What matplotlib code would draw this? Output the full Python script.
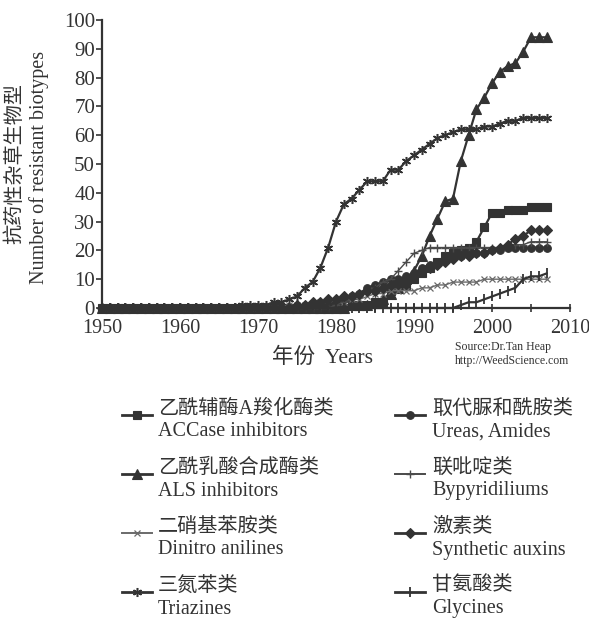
import matplotlib
matplotlib.use("Agg")
import matplotlib.pyplot as plt
from matplotlib.lines import Line2D

plt.rcParams['font.family'] = ['Liberation Serif', 'Noto Sans CJK SC', 'DejaVu Sans']

years = list(range(1950, 2008))

def series(vals):
    # yearly list from {year: value}; unlisted years are 0
    return [vals.get(y, 0) for y in years]

accase = series({1982: 1, 1983: 1, 1984: 1, 1985: 2, 1986: 2, 1987: 6, 1988: 7, 1989: 8,
                 1990: 10, 1991: 12, 1992: 14, 1993: 16, 1994: 18, 1995: 19, 1996: 20,
                 1997: 21, 1998: 23, 1999: 28, 2000: 33, 2001: 33, 2002: 34, 2003: 34,
                 2004: 34, 2005: 35, 2006: 35, 2007: 35})
als = series({1982: 1, 1983: 1, 1984: 1, 1985: 2, 1986: 3, 1987: 5, 1988: 7, 1989: 10,
              1990: 13, 1991: 18, 1992: 25, 1993: 31, 1994: 37, 1995: 38, 1996: 51,
              1997: 60, 1998: 69, 1999: 73, 2000: 78, 2001: 82, 2002: 84, 2003: 85,
              2004: 89, 2005: 94, 2006: 94, 2007: 94})
dinitro = series({1973: 1, 1974: 1, 1975: 1, 1976: 1, 1977: 1, 1978: 2, 1979: 2, 1980: 2,
                  1981: 2, 1982: 3, 1983: 3, 1984: 4, 1985: 5, 1986: 5, 1987: 6, 1988: 6,
                  1989: 6, 1990: 6, 1991: 7, 1992: 7, 1993: 8, 1994: 8, 1995: 9, 1996: 9,
                  1997: 9, 1998: 9, 1999: 10, 2000: 10, 2001: 10, 2002: 10, 2003: 10,
                  2004: 10, 2005: 10, 2006: 10, 2007: 10})
triazines = series({1968: 1, 1969: 1, 1970: 1, 1971: 1, 1972: 2, 1973: 2, 1974: 3, 1975: 4,
                    1976: 7, 1977: 9, 1978: 14, 1979: 21, 1980: 30, 1981: 36, 1982: 38,
                    1983: 41, 1984: 44, 1985: 44, 1986: 44, 1987: 48, 1988: 48, 1989: 51,
                    1990: 53, 1991: 55, 1992: 57, 1993: 59, 1994: 60, 1995: 61, 1996: 62,
                    1997: 62, 1998: 62, 1999: 63, 2000: 63, 2001: 64, 2002: 65, 2003: 65,
                    2004: 66, 2005: 66, 2006: 66, 2007: 66})
ureas = series({1978: 1, 1979: 1, 1980: 2, 1981: 3, 1982: 4, 1983: 5, 1984: 7, 1985: 8,
                1986: 9, 1987: 10, 1988: 10, 1989: 11, 1990: 12, 1991: 14, 1992: 15,
                1993: 16, 1994: 17, 1995: 18, 1996: 18, 1997: 19, 1998: 19, 1999: 19,
                2000: 20, 2001: 20, 2002: 21, 2003: 21, 2004: 21, 2005: 21, 2006: 21,
                2007: 21})
bipy = series({1980: 1, 1981: 2, 1982: 3, 1983: 4, 1984: 6, 1985: 7, 1986: 9, 1987: 10,
               1988: 13, 1989: 16, 1990: 19, 1991: 20, 1992: 21, 1993: 21, 1994: 21,
               1995: 21, 1996: 21, 1997: 21, 1998: 21, 1999: 21, 2000: 21, 2001: 21,
               2002: 22, 2003: 22, 2004: 22, 2005: 23, 2006: 23, 2007: 23})
auxins = series({1975: 1, 1976: 1, 1977: 2, 1978: 2, 1979: 3, 1980: 3, 1981: 4, 1982: 4,
                 1983: 5, 1984: 6, 1985: 6, 1986: 7, 1987: 8, 1988: 9, 1989: 10, 1990: 11,
                 1991: 13, 1992: 14, 1993: 15, 1994: 16, 1995: 17, 1996: 18, 1997: 18,
                 1998: 19, 1999: 19, 2000: 20, 2001: 21, 2002: 22, 2003: 24, 2004: 25,
                 2005: 27, 2006: 27, 2007: 27})
glycines = series({1996: 1, 1997: 2, 1998: 2, 1999: 3, 2000: 4, 2001: 5, 2002: 6, 2003: 7,
                   2004: 10, 2005: 11, 2006: 11, 2007: 12})

labels_cn = ["乙酰辅酶A羧化酶类", "乙酰乳酸合成酶类", "二硝基苯胺类", "三氮苯类",
             "取代脲和酰胺类", "联吡啶类", "激素类", "甘氨酸类"]
labels_en = ["ACCase inhibitors", "ALS inhibitors", "Dinitro anilines", "Triazines",
             "Ureas, Amides", "Bypyridiliums", "Synthetic auxins", "Glycines"]
all_series = [accase, als, dinitro, triazines, ureas, bipy, auxins, glycines]

dark = "#333333"
styles = [
    dict(marker='s', ms=6, color=dark, lw=1.6, mew=0.8),
    dict(marker='^', ms=6.5, color=dark, lw=1.6, mew=0.8),
    dict(marker='x', ms=4.5, color="#6a6a6a", lw=1.0, mew=0.9),
    dict(marker=(6, 2, 0), ms=6.5, color=dark, lw=1.6, mew=1.1),
    dict(marker='o', ms=5.5, color=dark, lw=1.6, mew=0.8),
    dict(marker='+', ms=6, color="#4a4a4a", lw=1.0, mew=1.0),
    dict(marker='D', ms=5, color=dark, lw=1.6, mew=0.8),
    dict(marker='|', ms=7, color=dark, lw=1.6, mew=1.3),
]

W, H = 589, 619
fig = plt.figure(figsize=(W / 100, H / 100), dpi=100)
ax = fig.add_axes([102 / W, 1 - 308 / H, 468 / W, 288 / H])

for s, st in zip(all_series, styles):
    ax.plot(years, s, clip_on=False, **st)

ax.set_xlim(1950, 2010)
ax.set_ylim(0, 100)
ax.set_xticks(range(1950, 2011, 10))
ax.set_xticks(range(1955, 2010, 10), minor=True)
ax.set_yticks(range(0, 101, 10))
for sp in ['top', 'right']:
    ax.spines[sp].set_visible(False)
for sp in ['left', 'bottom']:
    ax.spines[sp].set_linewidth(1.6)
    ax.spines[sp].set_color("#333333")
ax.tick_params(axis='y', direction='out', length=4, width=1.2, pad=1,
               labelsize=15, colors="#333333")
ax.tick_params(axis='x', which='both', direction='inout', length=6, width=1.2, pad=5,
               labelsize=14.5, colors="#333333")

# y label (two lines, Chinese + English)
fig.text(15 / W, 1 - 163 / H, "抗药性杂草生物型", rotation=90, ha='center', va='center',
         fontsize=14.5, color="#333333", family=['Noto Sans CJK SC'])
fig.text(39 / W, 1 - 167 / H, "Number of resistant biotypes", rotation=90, ha='center',
         va='center', fontsize=14.5, color="#333333")

# x label
fig.text(322 / W, 1 - 358 / H, "年份  Years", ha='center', va='center', fontsize=15.5,
         color="#333333", family=['Liberation Serif', 'Noto Sans CJK SC'])

# source note
fig.text(455 / W, 1 - 347 / H, "Source:Dr.Tan Heap", ha='left', va='center', fontsize=8.5,
         color="#333333")
fig.text(455 / W, 1 - 361 / H, "http://WeedScience.com", ha='left', va='center',
         fontsize=8.5, color="#333333")

# legend, two columns
cn_rows = [409, 468, 527, 586]
for i, (cn, en, st) in enumerate(zip(labels_cn, labels_en, styles)):
    col = i // 4
    row = i % 4
    hx0, hx1, tx = (122, 152, 158) if col == 0 else (395, 425, 432)
    yc = cn_rows[row]
    hy = yc + 6
    fig.add_artist(Line2D([hx0 / W, hx1 / W], [1 - hy / H, 1 - hy / H],
                          color=st['color'], lw=st['lw'] + 0.4,
                          transform=fig.transFigure))
    fig.add_artist(Line2D([(hx0 + hx1) / 2 / W], [1 - hy / H], linestyle='None',
                          marker=st['marker'], ms=st['ms'], mew=st['mew'], color=st['color'],
                          transform=fig.transFigure))
    fig.text(tx / W, 1 - yc / H, cn, ha='left', va='center', fontsize=14.5,
             color="#333333", family=['Liberation Serif', 'Noto Sans CJK SC'])
    fig.text(tx / W, 1 - (yc + 23) / H, en, ha='left', va='center', fontsize=14.5,
             color="#333333")

fig.savefig("out.png", dpi=100, facecolor='white')
